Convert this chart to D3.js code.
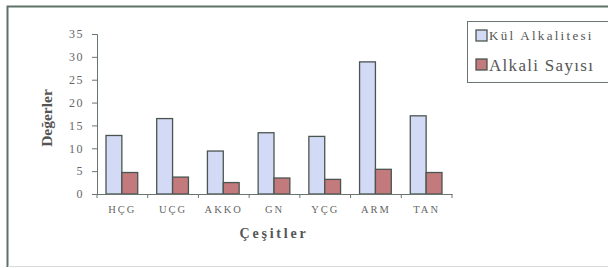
<!DOCTYPE html>
<html>
<head>
<meta charset="utf-8">
<script src="https://cdn.jsdelivr.net/npm/d3@7"></script>
<style>
  body { margin: 0; background: #fff; }
  svg text { font-family: "Liberation Serif", "DejaVu Serif", serif; }
</style>
</head>
<body>
<div id="chart"></div>
<script>
!(function () {
  // - - - - - - - - - -
  const categories = ['HÇG', 'UÇG', 'AKKO', 'GN', 'YÇG', 'ARM', 'TAN'];
  const seriesNames = ['Kül Alkalitesi', 'Alkali Sayısı'];
  const kulAlkalitesi = [12.8, 16.5, 9.4, 13.4, 12.6, 28.9, 17.1];
  const alkaliSayisi = [4.7, 3.7, 2.5, 3.5, 3.2, 5.4, 4.7];
  const yTicks = [0, 5, 10, 15, 20, 25, 30, 35];

  const width = 608, height = 268;
  const colors = ['#d3daf5', '#c27a7c'];
  const values = [kulAlkalitesi, alkaliSayisi];

  const svg = d3.select('#chart')
    .append('svg')
    .attr('width', width)
    .attr('height', height);

  // outer frame
  svg.append('path')
    .attr('d', 'M7.5,267 V6.5 H608')
    .attr('fill', 'none')
    .attr('stroke', '#5f7268')
    .attr('stroke-width', 2);
  svg.append('line')
    .attr('x1', 8).attr('x2', 608).attr('y1', 266.5).attr('y2', 266.5)
    .attr('stroke', '#d8dcd8');

  const x = d3.scaleBand()
    .domain(categories)
    .range([97, 452]);

  const y = d3.scaleLinear()
    .domain([0, 35])
    .range([194, 34]);

  const inner = d3.scaleBand()
    .domain([0, 1])
    .range([9, x.bandwidth() - 10]);

  // bars
  const groups = svg.selectAll('g.grp')
    .data(categories)
    .enter()
    .append('g')
    .attr('class', 'grp')
    .attr('transform', d => 'translate(' + x(d) + ',0)');

  groups.selectAll('rect')
    .data((d, i) => values.map((s, k) => ({ k: k, v: s[i] })))
    .enter()
    .append('rect')
    .attr('x', d => inner(d.k))
    .attr('y', d => y(d.v))
    .attr('width', inner.bandwidth())
    .attr('height', d => y(0) - y(d.v))
    .attr('fill', d => colors[d.k])
    .attr('stroke', '#4a5550')
    .attr('stroke-width', 1.3);

  // y axis
  const yAxis = svg.append('g')
    .attr('transform', 'translate(97,0)')
    .call(d3.axisLeft(y).tickValues(yTicks).tickSize(5).tickPadding(8));
  yAxis.select('.domain').attr('stroke', '#6b7570');
  yAxis.selectAll('.tick line').attr('stroke', '#6b7570');
  yAxis.selectAll('.tick text')
    .attr('fill', '#666')
    .style('font-size', '12px')
    .style('letter-spacing', '1.5px');

  // x axis
  const xAxis = svg.append('g')
    .attr('transform', 'translate(0,194)')
    .call(d3.axisBottom(x).tickSizeOuter(0).tickSize(0).tickPadding(12));
  xAxis.select('.domain').attr('stroke', '#6b7570');
  xAxis.selectAll('.tick text')
    .attr('fill', '#666')
    .style('font-size', '10.5px')
    .style('letter-spacing', '2px');
  xAxis.selectAll('line.sep')
    .data(d3.range(categories.length + 1))
    .enter()
    .append('line')
    .attr('class', 'sep')
    .attr('x1', i => 97 + i * x.step())
    .attr('x2', i => 97 + i * x.step())
    .attr('y1', 0).attr('y2', 4)
    .attr('stroke', '#6b7570');

  // axis titles
  svg.append('text')
    .attr('transform', 'translate(52,118) rotate(-90)')
    .attr('text-anchor', 'middle')
    .attr('fill', '#555')
    .style('font-size', '15.5px')
    .style('font-weight', 'bold')
    .text('Değerler');

  svg.append('text')
    .attr('x', 274)
    .attr('y', 238)
    .attr('text-anchor', 'middle')
    .attr('fill', '#555')
    .style('font-size', '14px')
    .style('font-weight', 'bold')
    .style('letter-spacing', '2.8px')
    .text('Çeşitler');

  // legend
  svg.append('rect')
    .attr('x', 467.5).attr('y', 21.5)
    .attr('width', 150).attr('height', 61)
    .attr('fill', '#fff')
    .attr('stroke', '#6b7570');

  const legend = svg.selectAll('g.leg')
    .data(seriesNames)
    .enter()
    .append('g')
    .attr('class', 'leg')
    .attr('transform', (d, i) => 'translate(476,' + (30 + i * 29) + ')');

  legend.append('rect')
    .attr('width', 11).attr('height', 11)
    .attr('fill', (d, i) => colors[i])
    .attr('stroke', '#4a5550')
    .attr('stroke-width', 1.3);

  legend.append('text')
    .attr('x', 13)
    .attr('y', (d, i) => i ? 12 : 10)
    .attr('fill', '#555')
    .style('font-size', (d, i) => i ? '17px' : '13px')
    .style('letter-spacing', (d, i) => i ? '1.3px' : '2.3px')
    .text(d => d);

  // - - - - - - - - - -
}());
</script>
</body>
</html>
